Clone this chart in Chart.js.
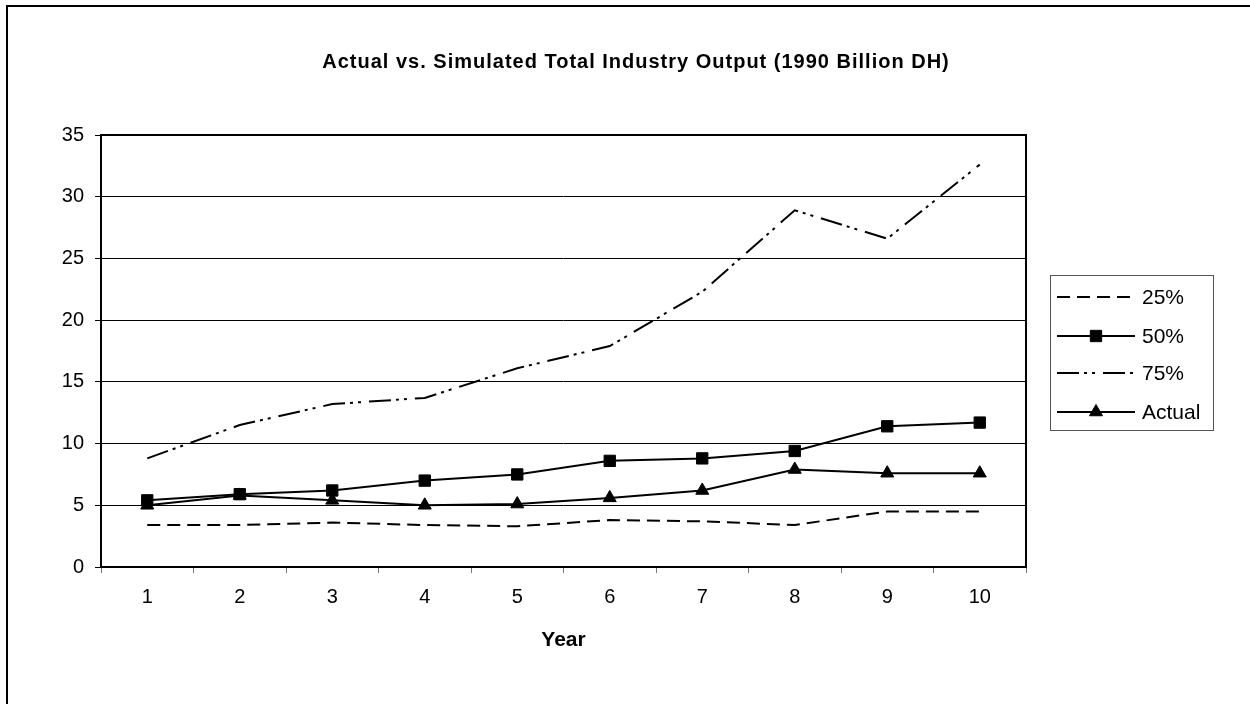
<!DOCTYPE html>
<html>
<head>
<meta charset="utf-8">
<script src="https://cdn.jsdelivr.net/npm/chart.js@4/dist/chart.umd.min.js"></script>
<style>
  html, body { margin: 0; padding: 0; background: #fff; overflow: hidden; }
  #frame { position: absolute; left: 6px; top: 5px; width: 1400px; height: 900px; border: 2px solid #000; }
  #chart { position: absolute; left: 0; top: 0; }
</style>
</head>
<body>
<div id="frame"></div>
<canvas id="chart" width="1250" height="704"></canvas>
<script>
// dados do gráfico
const years = ["1", "2", "3", "4", "5", "6", "7", "8", "9", "10"];
const pct25 = [3.4, 3.4, 3.6, 3.4, 3.3, 3.8, 3.7, 3.4, 4.5, 4.5];
const pct50 = [5.4, 5.9, 6.2, 7.0, 7.5, 8.6, 8.8, 9.4, 11.4, 11.7];
const pct75 = [8.8, 11.5, 13.2, 13.7, 16.1, 17.9, 22.3, 28.9, 26.6, 32.6];
const actual = [5.0, 5.8, 5.4, 5.0, 5.1, 5.6, 6.2, 7.9, 7.6, 7.6];
const yTicks = [0, 5, 10, 15, 20, 25, 30, 35];

const FONT = "Arial, 'Liberation Sans', sans-serif";

// título, moldura da área do gráfico e legenda
const decor = {
  id: "decor",
  afterDraw(chart) {
    const ctx = chart.ctx;
    const a = chart.chartArea;
    ctx.save();
    ctx.strokeStyle = "#000";
    ctx.lineWidth = 2;
    ctx.setLineDash([]);
    ctx.strokeRect(a.left, a.top, a.right - a.left, a.bottom - a.top);

    ctx.fillStyle = "#000";
    ctx.font = "bold 20px " + FONT;
    ctx.letterSpacing = "1px";
    ctx.textAlign = "center";
    ctx.textBaseline = "middle";
    ctx.fillText("Actual vs. Simulated Total Industry Output (1990 Billion DH)", 636, 62);
    ctx.letterSpacing = "0px";

    // legenda
    ctx.lineWidth = 1;
    ctx.strokeStyle = "#555";
    ctx.strokeRect(1050.5, 275.5, 163, 155);
    const rows = [297, 336, 373, 412];
    chart.data.datasets.forEach((ds, i) => {
      const y = rows[i];
      ctx.strokeStyle = "#000";
      ctx.lineWidth = ds.borderWidth;
      ctx.setLineDash(ds.borderDash || []);
      ctx.beginPath();
      ctx.moveTo(1057, y);
      ctx.lineTo(1135, y);
      ctx.stroke();
      ctx.setLineDash([]);
      if (ds.pointRadius > 0) {
        ctx.fillStyle = "#000";
        ctx.lineWidth = 1;
        Chart.helpers.drawPoint(ctx, { pointStyle: ds.pointStyle, radius: ds.pointRadius, borderWidth: 1, rotation: 0 }, 1096, y);
      }
      ctx.fillStyle = "#000";
      ctx.font = "21px " + FONT;
      ctx.textAlign = "left";
      ctx.textBaseline = "middle";
      ctx.fillText(ds.label, 1142, y + 1);
    });
    ctx.restore();
  },
};

const ctx = document.getElementById("chart").getContext("2d");
const chart = new Chart(ctx, {
  type: "line",
  data: {
    labels: years,
    datasets: [
      {
        label: "25%",
        data: pct25,
        borderColor: "#000",
        borderWidth: 2,
        borderDash: [13, 7],
        pointRadius: 0,
        fill: false,
        tension: 0,
      },
      {
        label: "50%",
        data: pct50,
        borderColor: "#000",
        backgroundColor: "#000",
        borderWidth: 2,
        pointStyle: "rect",
        pointRadius: 8,
        pointBorderWidth: 1,
        fill: false,
        tension: 0,
      },
      {
        label: "75%",
        data: pct75,
        borderColor: "#000",
        borderWidth: 2,
        borderDash: [22, 5, 3, 5, 3, 8],
        pointRadius: 0,
        fill: false,
        tension: 0,
      },
      {
        label: "Actual",
        data: actual,
        borderColor: "#000",
        backgroundColor: "#000",
        borderWidth: 2,
        pointStyle: "triangle",
        pointRadius: 7.5,
        pointBorderWidth: 1,
        fill: false,
        tension: 0,
      },
    ],
  },
  options: {
    responsive: false,
    animation: false,
    layout: { padding: { left: 40, right: 224, top: 135, bottom: 47 } },
    plugins: {
      legend: { display: false },
      title: { display: false },
      tooltip: { enabled: false },
    },
    scales: {
      x: {
        offset: true,
        grid: { offset: true, drawOnChartArea: false, drawTicks: true, tickLength: 6, color: "#777", lineWidth: 1 },
        border: { display: false },
        ticks: { color: "#000", font: { family: FONT, size: 20 }, padding: 12, maxRotation: 0, autoSkip: false },
        title: {
          display: true,
          text: "Year",
          color: "#000",
          font: { family: FONT, size: 21, weight: "bold" },
          padding: { top: 0, bottom: 4 },
        },
        afterFit: (s) => { s.height = 90; },
      },
      y: {
        min: 0,
        max: 35,
        afterBuildTicks: (s) => { s.ticks = yTicks.map((v) => ({ value: v })); },
        grid: { color: "#000", lineWidth: 1, tickLength: 6, drawTicks: true },
        border: { display: false },
        ticks: { color: "#000", font: { family: FONT, size: 20 }, padding: 11 },
        afterFit: (s) => { s.width = 61; },
      },
    },
  },
  plugins: [decor],
});
</script>
</body>
</html>
